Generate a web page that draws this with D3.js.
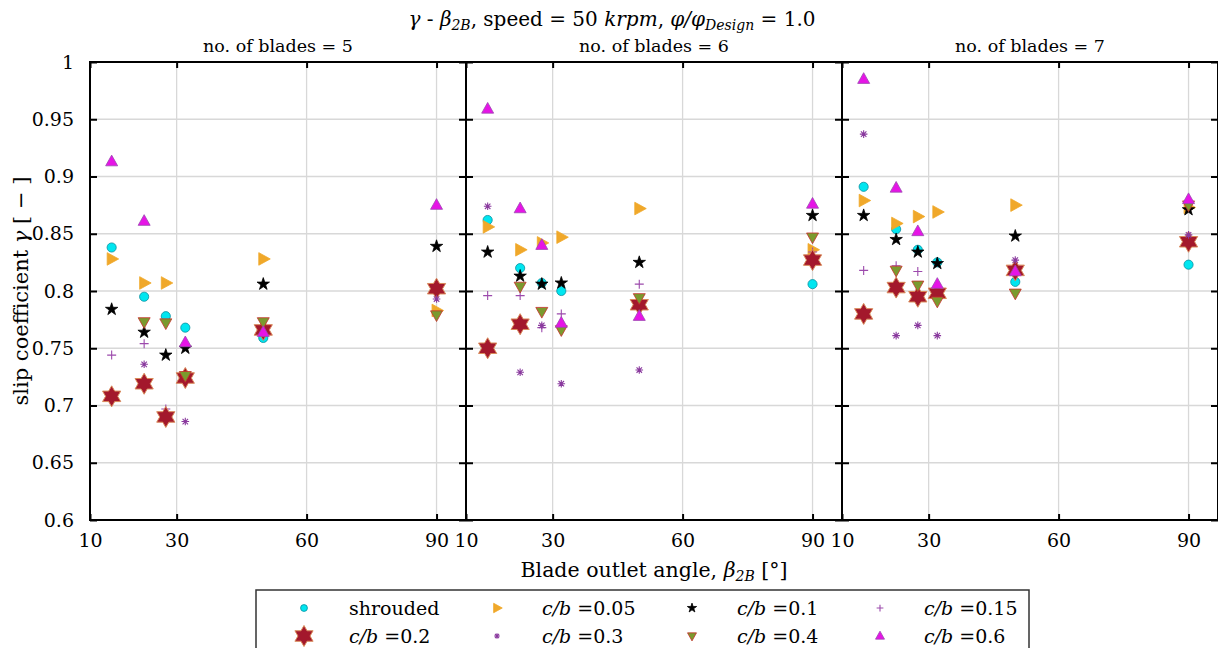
<!DOCTYPE html>
<html>
<head>
<meta charset="utf-8">
<script src="https://cdn.jsdelivr.net/npm/d3@7"></script>
<style>
  body { margin: 0; background: #fff; }
  text { font-family: "DejaVu Serif", "Liberation Serif", serif; fill: #000; }
</style>
</head>
<body>
<svg id="chart" width="1218" height="648"></svg>
<script>
// blade outlet angles (deg) and the three panels
const beta = [15, 22.5, 27.5, 32, 50, 90];
const blades = [5, 6, 7];
const xTicks = [10, 30, 60, 90];
const yTicks = [0.6, 0.65, 0.7, 0.75, 0.8, 0.85, 0.9, 0.95, 1];

// slip coefficient per series, one row per blade count (5, 6, 7), null = not visible
const shrouded = [
  [0.838, 0.795, 0.778, 0.768, 0.759, null],
  [0.862, 0.820, 0.807, 0.800, null, 0.806],
  [0.891, 0.854, 0.836, 0.825, 0.808, 0.823]
];
const cb005 = [
  [0.828, 0.807, 0.807, null, 0.828, 0.783],
  [0.856, 0.836, 0.842, 0.847, 0.872, 0.836],
  [0.879, 0.859, 0.865, 0.869, 0.875, 0.873]
];
const cb01 = [
  [0.784, 0.764, 0.744, 0.750, 0.806, 0.839],
  [0.834, 0.813, 0.806, 0.807, 0.825, 0.866],
  [0.866, 0.845, 0.834, 0.824, 0.848, 0.871]
];
const cb015 = [
  [0.744, 0.754, 0.697, null, null, 0.806],
  [0.796, 0.796, 0.768, 0.780, 0.806, 0.834],
  [0.818, 0.822, 0.817, null, null, 0.847]
];
const cb02 = [
  [0.708, 0.719, 0.690, 0.724, 0.766, 0.802],
  [0.750, 0.771, null, null, 0.788, 0.827],
  [0.780, 0.803, 0.795, 0.798, 0.818, 0.843]
];
const cb03 = [
  [null, 0.736, null, 0.686, null, 0.793],
  [0.874, 0.729, 0.770, 0.719, 0.731, null],
  [0.937, 0.761, 0.770, 0.761, 0.827, 0.849]
];
const cb04 = [
  [null, 0.773, 0.772, 0.726, 0.773, 0.779],
  [null, 0.804, 0.782, 0.766, 0.794, 0.847],
  [null, 0.818, 0.805, 0.791, 0.798, 0.875]
];
const cb06 = [
  [0.913, 0.861, null, 0.755, 0.764, 0.875],
  [0.959, 0.872, 0.840, 0.772, 0.778, 0.876],
  [0.985, 0.890, 0.852, 0.806, 0.817, 0.880]
];

const labels = ["shrouded", "0.05", "0.1", "0.15", "0.2", "0.3", "0.4", "0.6"];

// marker style per series (same order as labels)
const series = [
  {vals: shrouded, shape: "circle",   fill: "#00e6f0", stroke: "#0a8fa0"},
  {vals: cb005,    shape: "triRight", fill: "#f0a82a", stroke: "#f0a82a"},
  {vals: cb01,     shape: "star",     fill: "#000",    stroke: "#000"},
  {vals: cb015,    shape: "plus",     fill: "none",    stroke: "#9c4aac"},
  {vals: cb02,     shape: "hexagram", fill: "#a3182c", stroke: "#d98a5a"},
  {vals: cb03,     shape: "asterisk", fill: "none",    stroke: "#8a3a9e"},
  {vals: cb04,     shape: "triDown",  fill: "#7a9a2e", stroke: "#c8302c"},
  {vals: cb06,     shape: "triUp",    fill: "#e614e6", stroke: "#9a48b0"}
];

const svg = d3.select("#chart");
const plotTop = 62, plotBottom = 520;
const panelX = [90, 466, 842];
const panelW = 376;

const y = d3.scaleLinear().domain([0.6, 1]).range([plotBottom, plotTop]);

function markerPath(shape) {
  if (shape === "circle") return d3.symbol(d3.symbolCircle, 66)();
  if (shape === "star") return d3.symbol(d3.symbolStar, 48)();
  if (shape === "triUp") return "M0,-6.5L6,4.2L-6,4.2Z";
  if (shape === "triDown") return "M0,6.5L6,-4.2L-6,-4.2Z";
  if (shape === "triRight") return "M7,0L-4.5,-6.3L-4.5,6.3Z";
  if (shape === "plus") return "M-4.5,0H4.5M0,-4.5V4.5";
  if (shape === "asterisk") {
    const r = 3.8, d = r * 0.72;
    return `M${-r},0H${r}M0,${-r}V${r}M${-d},${-d}L${d},${d}M${-d},${d}L${d},${-d}`;
  }
  if (shape === "hexagram") {
    const R = 10.5;
    let p = "";
    for (let i = 0; i < 12; i++) {
      const a = -Math.PI / 2 + i * Math.PI / 6;
      const r = i % 2 === 0 ? R : R / Math.sqrt(3);
      p += (i === 0 ? "M" : "L") + (r * Math.cos(a)).toFixed(2) + "," + (r * Math.sin(a)).toFixed(2);
    }
    return p + "Z";
  }
}

function drawMarker(g, shape, fill, stroke, cx, cy, scale) {
  let sw = 0.8;
  if (shape === "plus" || shape === "asterisk") sw = 1.1;
  if (shape === "hexagram") sw = 1;
  g.append("path")
    .attr("d", markerPath(shape))
    .attr("transform", `translate(${cx},${cy}) scale(${scale})`)
    .attr("fill", fill)
    .attr("stroke", stroke)
    .attr("stroke-width", sw / scale);
}

blades.forEach(function(nb, p) {
  const x = d3.scaleLinear().domain([10, 96.8]).range([panelX[p], panelX[p] + panelW]);
  const g = svg.append("g");

  // grid
  g.selectAll(".gx").data(xTicks.slice(1)).enter().append("line")
    .attr("x1", d => x(d)).attr("x2", d => x(d))
    .attr("y1", plotTop).attr("y2", plotBottom)
    .attr("stroke", "#d8d8d8").attr("stroke-width", 1.3);
  g.selectAll(".gy").data(yTicks.slice(1, -1)).enter().append("line")
    .attr("x1", panelX[p]).attr("x2", panelX[p] + panelW)
    .attr("y1", d => y(d)).attr("y2", d => y(d))
    .attr("stroke", "#d8d8d8").attr("stroke-width", 1.3);

  // axes with inward ticks
  const axB = g.append("g").attr("transform", `translate(0,${plotBottom})`)
    .call(d3.axisBottom(x).tickValues(xTicks).tickSize(-6).tickPadding(14).tickFormat(d3.format("d")));
  const axT = g.append("g").attr("transform", `translate(0,${plotTop})`)
    .call(d3.axisTop(x).tickValues(xTicks).tickSize(-6).tickFormat(""));
  const axL = g.append("g").attr("transform", `translate(${panelX[p]},0)`)
    .call(d3.axisLeft(y).tickValues(yTicks).tickSize(-7).tickPadding(16).tickFormat(d => d3.format("")(d)));
  const axR = g.append("g").attr("transform", `translate(${panelX[p] + panelW},0)`)
    .call(d3.axisRight(y).tickValues(yTicks).tickSize(-7).tickFormat(""));
  [axB, axT, axL, axR].forEach(function(a) {
    a.select(".domain").remove();
    a.attr("font-family", null);
    a.selectAll(".tick line").attr("stroke", "#000").attr("stroke-width", 2);
    a.selectAll("text").attr("font-size", 19).attr("fill", "#000");
  });
  if (p > 0) axL.selectAll("text").remove();

  // frame
  g.append("rect")
    .attr("x", panelX[p]).attr("y", plotTop)
    .attr("width", panelW).attr("height", plotBottom - plotTop)
    .attr("fill", "none").attr("stroke", "#000").attr("stroke-width", 2);

  // subplot title
  svg.append("text")
    .attr("x", panelX[p] + panelW / 2).attr("y", 52)
    .attr("text-anchor", "middle").attr("font-size", 17.5)
    .text("no. of blades = " + nb);

  // markers
  series.forEach(function(s) {
    s.vals[p].forEach(function(v, i) {
      if (v === null) return;
      drawMarker(g, s.shape, s.fill, s.stroke, x(beta[i]), y(v), 1);
    });
  });
});

// title
const title = svg.append("text").attr("x", 612).attr("y", 26)
  .attr("text-anchor", "middle").attr("font-size", 20);
title.append("tspan").attr("font-style", "italic").text("γ");
title.append("tspan").text(" - ");
title.append("tspan").attr("font-style", "italic").text("β");
title.append("tspan").attr("font-size", 14).attr("dy", 4).attr("font-style", "italic").text("2B");
title.append("tspan").attr("dy", -4).text(", speed = 50 ");
title.append("tspan").attr("font-style", "italic").text("krpm");
title.append("tspan").text(", ");
title.append("tspan").attr("font-style", "italic").text("φ/φ");
title.append("tspan").attr("font-size", 14).attr("dy", 4).attr("font-style", "italic").text("Design");
title.append("tspan").attr("dy", -4).text(" = 1.0");

// x axis label
const xl = svg.append("text").attr("x", 654).attr("y", 577)
  .attr("text-anchor", "middle").attr("font-size", 20.5);
xl.append("tspan").text("Blade outlet angle, ");
xl.append("tspan").attr("font-style", "italic").text("β");
xl.append("tspan").attr("font-size", 14).attr("dy", 4).attr("font-style", "italic").text("2B");
xl.append("tspan").attr("dy", -4).text(" [°]");

// y axis label
const yl = svg.append("text").attr("transform", "translate(28,291) rotate(-90)")
  .attr("text-anchor", "middle").attr("font-size", 21);
yl.append("tspan").text("slip coefficient ");
yl.append("tspan").attr("font-style", "italic").text("γ");
yl.append("tspan").text(" [ − ]");

// legend
const lg = svg.append("g");
lg.append("rect").attr("x", 256).attr("y", 590).attr("width", 773).attr("height", 70)
  .attr("fill", "#fff").attr("stroke", "#333").attr("stroke-width", 1.5);
const colMarker = [304, 497, 692, 880];
const colText = [349, 542, 737, 924];
const rowY = [608, 636];
series.forEach(function(s, i) {
  const r = Math.floor(i / 4), c = i % 4;
  const sc = s.shape === "hexagram" ? 1 : 0.75;
  drawMarker(lg, s.shape, s.fill, s.stroke, colMarker[c], rowY[r], sc);
  const t = lg.append("text").attr("x", colText[c]).attr("y", rowY[r] + 7).attr("font-size", 19);
  if (i === 0) {
    t.text(labels[i]);
  } else {
    t.append("tspan").attr("font-style", "italic").text("c/b");
    t.append("tspan").text(" =" + labels[i]);
  }
});
</script>
</body>
</html>
